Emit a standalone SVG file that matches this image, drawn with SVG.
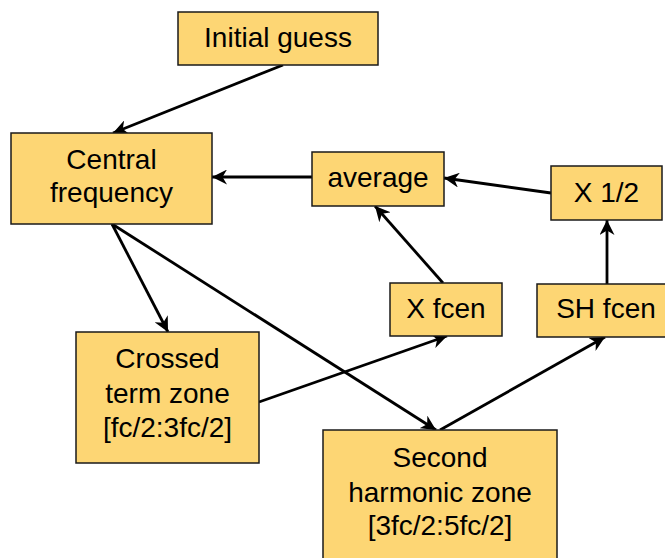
<svg xmlns="http://www.w3.org/2000/svg" width="665" height="558" viewBox="0 0 665 558">
<style>
.box{fill:#FDD674;stroke:#1a1a1a;stroke-width:1.5}
.t{font-family:"Liberation Sans",Arial,sans-serif;font-size:28px;fill:#000;text-anchor:middle}
.c{stroke:#000;stroke-width:2.8;fill:none;marker-end:url(#ah)}
</style>
<defs>
<marker id="ah" markerUnits="userSpaceOnUse" markerWidth="17" markerHeight="15" refX="15" refY="7.5" orient="auto" viewBox="0 0 17 15">
<path d="M15,7.5 L0,0 L4.5,7.5 L0,15 Z" fill="#000"/>
</marker>
</defs>
<rect width="665" height="558" fill="#fff"/>
<g id="connectors">
<line class="c" x1="283" y1="65" x2="113" y2="133"/>
<line class="c" x1="312" y1="177" x2="212" y2="177"/>
<line class="c" x1="551" y1="193" x2="444" y2="178"/>
<line class="c" x1="443" y1="283" x2="375" y2="206"/>
<line class="c" x1="607" y1="284" x2="607" y2="220"/>
<line class="c" x1="112" y1="224" x2="168" y2="332"/>
<line class="c" x1="112" y1="224" x2="436" y2="430"/>
<line class="c" x1="259" y1="402" x2="447" y2="336"/>
<line class="c" x1="440" y1="430" x2="605" y2="337"/>
</g>
<g id="initial-guess"><rect class="box" x="178" y="12" width="200" height="53"/><text class="t" x="278" y="47">Initial guess</text></g>
<g id="central-frequency"><rect class="box" x="11" y="133" width="201" height="91"/><text class="t" x="111.5" y="169">Central</text><text class="t" x="111.5" y="202">frequency</text></g>
<g id="average"><rect class="box" x="312" y="152" width="132" height="54"/><text class="t" x="378" y="187">average</text></g>
<g id="x-half"><rect class="box" x="551" y="166" width="111" height="54"/><text class="t" x="606.5" y="202">X 1/2</text></g>
<g id="crossed-term"><rect class="box" x="76" y="332" width="183" height="131"/><text class="t" x="167.5" y="368">Crossed</text><text class="t" x="167.5" y="403">term zone</text><text class="t" x="167.5" y="437">[fc/2:3fc/2]</text></g>
<g id="x-fcen"><rect class="box" x="390" y="283" width="112" height="53"/><text class="t" x="446" y="318">X fcen</text></g>
<g id="sh-fcen"><rect class="box" x="537" y="284" width="140" height="53"/><text class="t" x="606" y="318">SH fcen</text></g>
<g id="second-harmonic"><rect class="box" x="323" y="430" width="234" height="132"/><text class="t" x="440" y="467">Second</text><text class="t" x="440" y="502">harmonic zone</text><text class="t" x="440" y="535">[3fc/2:5fc/2]</text></g>
</svg>
